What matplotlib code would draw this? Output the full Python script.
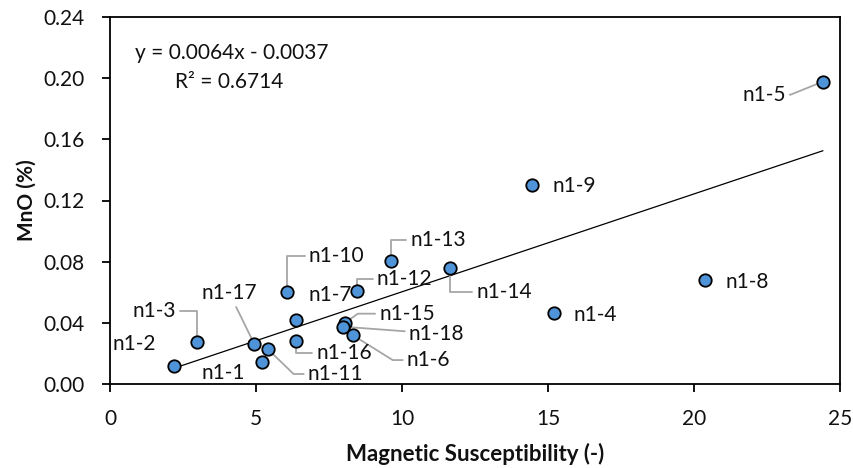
import matplotlib
matplotlib.use('Agg')
import matplotlib.pyplot as plt
import numpy as np

plt.rcParams['font.family'] = ['Lato', 'DejaVu Sans']

# samples: magnetic susceptibility vs MnO content
samples = ['n1-1', 'n1-2', 'n1-3', 'n1-4', 'n1-5', 'n1-6', 'n1-7', 'n1-8', 'n1-9',
           'n1-10', 'n1-11', 'n1-12', 'n1-13', 'n1-14', 'n1-15', 'n1-16', 'n1-17', 'n1-18']
susceptibility = [5.19, 2.20, 2.99, 15.22, 24.41, 8.31, 6.37, 20.38, 14.46,
                  6.05, 5.40, 8.45, 9.62, 11.64, 8.05, 6.37, 4.94, 7.97]
mno = [0.0146, 0.0118, 0.0277, 0.0462, 0.1977, 0.0320, 0.0419, 0.0680, 0.1301,
       0.0602, 0.0229, 0.0608, 0.0807, 0.0761, 0.0401, 0.0283, 0.0262, 0.0375]

# linear trend as reported
slope = 0.0064
intercept = -0.0037
r_squared = 0.6714

x_ticks = [0, 5, 10, 15, 20, 25]
y_ticks = [0.00, 0.04, 0.08, 0.12, 0.16, 0.20, 0.24]

# label placement: offset of the label centre from its point (pixels),
# and the angle of the leader line at the point (None = no leader, 'line' = straight)
label_offset = {
    'n1-1': (-38, -11), 'n1-2': (-40, 22), 'n1-3': (-43, 31), 'n1-4': (41, -2),
    'n1-5': (-59, -13), 'n1-6': (76, -25), 'n1-7': (34, 25), 'n1-8': (42, -2),
    'n1-9': (42, -1), 'n1-10': (50, 36), 'n1-11': (68, -25), 'n1-12': (48, 12),
    'n1-13': (47, 21), 'n1-14': (54, -24), 'n1-15': (62, 9), 'n1-16': (48, -12),
    'n1-17': (-25, 51), 'n1-18': (94, -7),
}
leader = {
    'n1-3': 90, 'n1-5': 22, 'n1-6': -32, 'n1-10': 90, 'n1-11': -44,
    'n1-12': 90, 'n1-13': 90, 'n1-14': 90, 'n1-15': 35, 'n1-16': 90,
    'n1-17': 'line', 'n1-18': 'line',
}

text_color = '#111111'

fig = plt.figure(figsize=(8.54, 4.68), dpi=100)
ax = fig.add_axes([110 / 854, 84 / 468, 730 / 854, 367 / 468])

xs = np.array([min(susceptibility), max(susceptibility)])
ax.plot(xs, slope * xs + intercept, color='black', lw=0.9, zorder=2)

ax.scatter(susceptibility, mno, s=80, color='#4F94D8', edgecolor='black',
           linewidth=1.3, zorder=5)

for name, x, y in zip(samples, susceptibility, mno):
    dx, dy = label_offset[name]
    arrow = None
    style = leader.get(name)
    if style == 'line':
        arrow = dict(arrowstyle='-', color='#A6A6A6', lw=1.3, shrinkA=1, shrinkB=0,
                     connectionstyle='arc3')
    elif style is not None:
        arrow = dict(arrowstyle='-', color='#A6A6A6', lw=1.3, shrinkA=1, shrinkB=0,
                     connectionstyle=f'angle,angleA=0,angleB={style},rad=0')
    ax.annotate(name, (x, y), xytext=(dx, dy), textcoords='offset pixels',
                ha='center', va='center', fontsize=15, color=text_color,
                arrowprops=arrow, zorder=4)

ax.text(0.1664, 0.902, f'y = {slope}x - {abs(intercept)}', transform=ax.transAxes,
        ha='center', va='center', fontsize=15, color=text_color)
ax.text(0.163, 0.823, f'R\u00b2 = {r_squared}', transform=ax.transAxes,
        ha='center', va='center', fontsize=15, color=text_color)

ax.set_xlim(0, 25)
ax.set_ylim(0, 0.24)
ax.set_xticks(x_ticks)
ax.set_yticks(y_ticks)
ax.set_yticklabels([f'{v:.2f}' for v in y_ticks])
ax.tick_params(direction='out', length=6, width=1.3, labelsize=15,
               labelcolor=text_color, pad=12)
for side in ax.spines.values():
    side.set_linewidth(1.3)

ax.set_xlabel('Magnetic Susceptibility (-)', fontsize=16, fontweight='bold',
              color=text_color, labelpad=10)
ax.set_ylabel('MnO (%)', fontsize=15, fontweight='bold', color=text_color,
              labelpad=5)

fig.savefig('out.png', dpi=100)
